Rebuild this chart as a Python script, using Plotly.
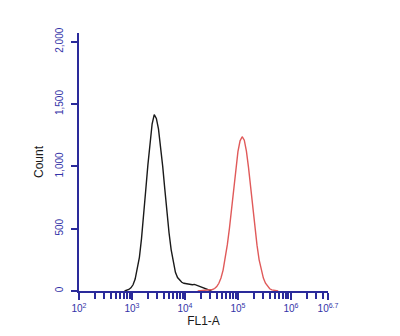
import numpy as np
import plotly.graph_objects as go

# Histogram bins (log10 of FL1-A) and counts
black_log = [2.86, 2.90, 2.94, 2.98, 3.02, 3.06, 3.10, 3.14, 3.18, 3.22, 3.26, 3.30, 3.34, 3.38,
             3.42, 3.46, 3.50, 3.54, 3.58, 3.62, 3.66, 3.70, 3.74, 3.78, 3.82, 3.86, 3.90, 3.94,
             3.98, 4.02, 4.06, 4.10, 4.14, 4.18, 4.22, 4.26, 4.30, 4.34, 4.38, 4.42, 4.46, 4.50]
black_counts = [0, 4, 12, 25, 50, 96, 172, 270, 420, 590, 810, 1010, 1210, 1340,
                1415, 1385, 1300, 1170, 1000, 815, 630, 465, 330, 225, 150, 108, 84, 70,
                62, 58, 55, 52, 50, 53, 46, 40, 33, 25, 16, 8, 3, 0]

red_log = [4.24, 4.28, 4.32, 4.36, 4.40, 4.44, 4.48, 4.52, 4.56, 4.60, 4.64, 4.68, 4.72, 4.76,
           4.80, 4.84, 4.88, 4.92, 4.96, 5.00, 5.04, 5.08, 5.12, 5.16, 5.20, 5.24, 5.28, 5.32,
           5.36, 5.40, 5.44, 5.48, 5.52, 5.56, 5.60, 5.64, 5.68, 5.72, 5.76]
red_counts = [0, 2, 3, 4, 5, 6, 8, 12, 20, 36, 62, 104, 168, 255,
              372, 505, 670, 832, 995, 1118, 1205, 1238, 1210, 1122, 990, 830, 665, 505,
              368, 250, 165, 104, 62, 35, 18, 9, 4, 1, 0]

x_tick_exps = [2, 3, 4, 5, 6, 6.7]
x_tick_text = ["10<sup>2</sup>", "10<sup>3</sup>", "10<sup>4</sup>", "10<sup>5</sup>",
               "10<sup>6</sup>", "10<sup>6.7</sup>"]
y_ticks = [0, 500, 1000, 1500, 2000]

minor_vals = [m * 10 ** d for d in [2, 3, 4, 5] for m in range(2, 10)] + [2e6, 3e6, 4e6, 5e6]

AX = "#2a2a9a"
LBL = "#3434a8"

fig = go.Figure()
fig.add_trace(go.Scatter(x=[10 ** v for v in black_log], y=black_counts, mode="lines",
                         line=dict(color="#1a1a1a", width=1.4)))
fig.add_trace(go.Scatter(x=[10 ** v for v in red_log], y=red_counts, mode="lines",
                         line=dict(color="#e05a5a", width=1.4)))

fig.update_layout(
    width=400, height=336,
    margin=dict(l=79, r=72, t=33, b=45),
    paper_bgcolor="white", plot_bgcolor="white",
    showlegend=False,
    font=dict(family="Liberation Sans, Arial, sans-serif"),
)
fig.update_xaxes(
    type="log", range=[2, 6.7],
    tickmode="array", tickvals=[10 ** e for e in x_tick_exps], ticktext=x_tick_text,
    ticks="outside", ticklen=7, tickwidth=1.5, tickcolor=AX,
    showline=True, linecolor=AX, linewidth=2,
    showgrid=False, zeroline=False,
    tickfont=dict(size=10, color=LBL),
    minor=dict(tickvals=minor_vals, ticks="outside", ticklen=6, tickwidth=1.5, tickcolor=AX,
               showgrid=False),
    title=dict(text="FL1-A", font=dict(size=12, color="#1a1a1a"), standoff=2),
)
fig.update_yaxes(
    range=[0, 2070],
    tickmode="array", tickvals=y_ticks, tickformat=",",
    ticks="outside", ticklen=6, tickwidth=1.5, tickcolor=AX,
    showline=True, linecolor=AX, linewidth=2,
    showgrid=False, zeroline=False,
    tickangle=-90, ticklabelstandoff=4,
    tickfont=dict(size=10, color=LBL),
    title=dict(text="Count", font=dict(size=12, color="#1a1a1a"), standoff=8),
)

fig.write_html("out.html")
